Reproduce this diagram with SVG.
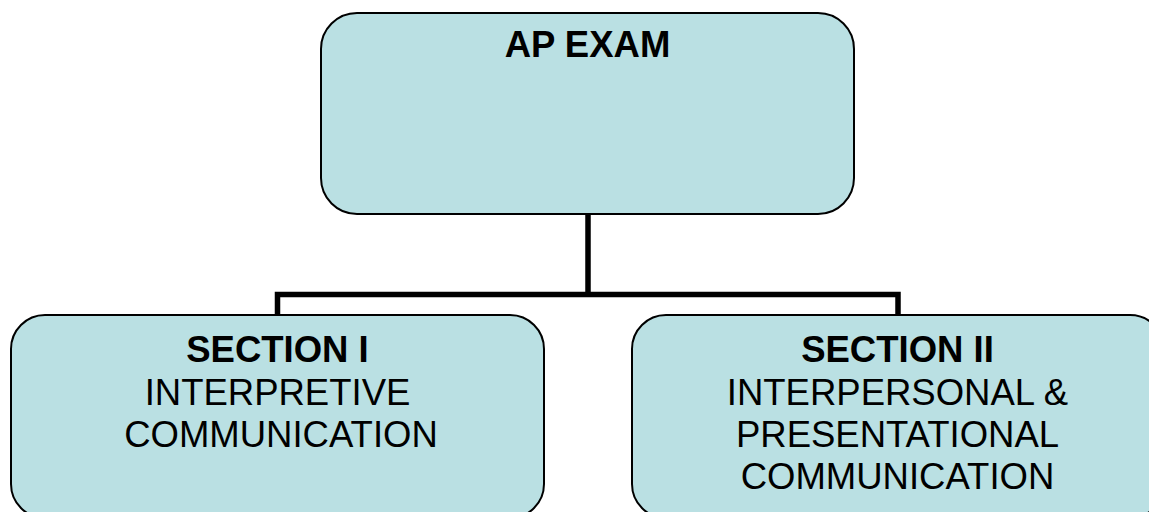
<svg xmlns="http://www.w3.org/2000/svg" width="1149" height="512" viewBox="0 0 1149 512">
<style>
.box{fill:#BAE0E3;stroke:#000;stroke-width:2}
.conn{fill:none;stroke:#000;stroke-width:5.5;stroke-linejoin:miter}
text{font-family:"Liberation Sans",Arial,sans-serif;font-size:36.5px;fill:#000;text-anchor:middle}
.b{font-weight:bold}
</style>
<rect width="1149" height="512" fill="#fff"/>
<g id="connectors">
<path class="conn" d="M588 214 V294.5 M277.5 316 V294.5 H898 V316"/>
</g>
<g id="node-ap-exam">
<rect class="box" x="321" y="13" width="533" height="201" rx="36" ry="36"/>
<text class="b" x="587.5" y="57">AP EXAM</text>
</g>
<g id="node-section-1">
<rect class="box" x="11" y="315" width="533" height="203" rx="34" ry="34"/>
<text class="b" x="277.5" y="361.5">SECTION I</text>
<text x="277.5" y="404.5">INTERPRETIVE</text>
<text x="281" y="447">COMMUNICATION</text>
</g>
<g id="node-section-2">
<rect class="box" x="632" y="315" width="532" height="203" rx="34" ry="34"/>
<text class="b" x="897.5" y="361.5">SECTION II</text>
<text x="897.5" y="404.5">INTERPERSONAL &amp;</text>
<text x="897.5" y="447">PRESENTATIONAL</text>
<text x="897.5" y="489">COMMUNICATION</text>
</g>
</svg>
